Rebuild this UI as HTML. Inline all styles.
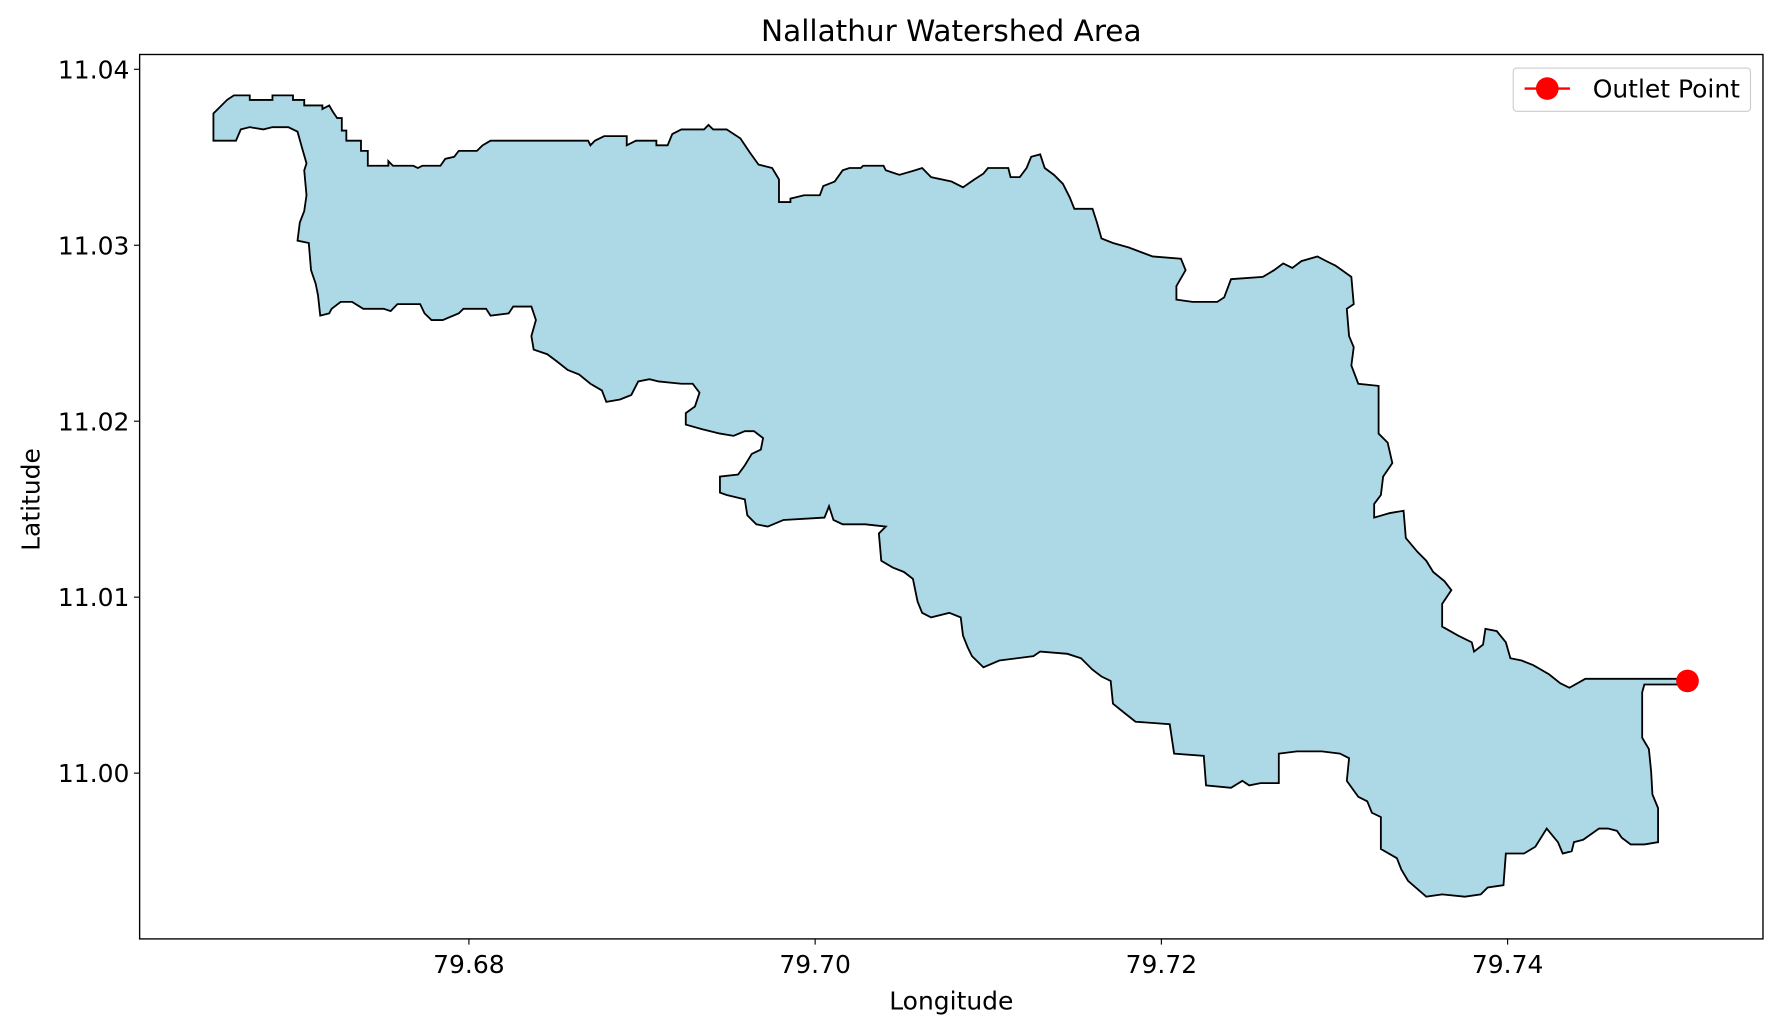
<!DOCTYPE html>
<html><head><meta charset="utf-8"><style>
html,body{margin:0;padding:0;background:#fff;}
svg{display:block;font-family:"DejaVu Sans","Liberation Sans",sans-serif;}
</style></head><body>
<svg id="chart" width="1780" height="1032" viewBox="0 0 1568 909" preserveAspectRatio="none" xmlns="http://www.w3.org/2000/svg">
<rect width="1568" height="909" fill="#fff"/>
<text x="838" y="36" font-size="26" text-anchor="middle" fill="#000">Nallathur Watershed Area</text>
<g id="plot"></g>
<rect x="123" y="48" width="1430" height="779" fill="none" stroke="#000" stroke-width="1.2"/>
<g id="xticks"></g><g id="yticks"></g>
<text x="838" y="889" font-size="22" text-anchor="middle">Longitude</text>
<text transform="translate(35,440) rotate(-90)" font-size="22" text-anchor="middle">Latitude</text>
<g>
<rect x="1333" y="60" width="209" height="38" rx="3" fill="#fff" stroke="#ccc"/>
<line x1="1343" y1="78" x2="1383" y2="78" stroke="red" stroke-width="2"/>
<circle cx="1363" cy="78" r="10" fill="red"/>
<text x="1403" y="86" font-size="22">Outlet Point</text>
</g>
</svg>
<script>
const lonData=[79.66524,79.66524,79.66557,79.66603,79.66642,79.66734,79.66734,79.66865,79.66865,79.66984,79.66984,79.67049,79.67049,79.67154,79.67154,79.67193,79.67213,79.67239,79.67266,79.67266,79.67292,79.67292,79.67377,79.67377,79.67416,79.67416,79.67535,79.67535,79.67561,79.67679,79.67705,79.67731,79.67836,79.67863,79.67915,79.67941,79.68046,79.68079,79.68125,79.68689,79.68702,79.68728,79.68781,79.68912,79.68912,79.68965,79.69083,79.69083,79.69148,79.69175,79.69227,79.69358,79.69384,79.69411,79.69489,79.69568,79.69621,79.69673,79.69752,79.69791,79.69791,79.69857,79.69857,79.69936,79.70027,79.70047,79.70113,79.70159,79.70198,79.70264,79.70277,79.70395,79.70408,79.70487,79.70578,79.70618,79.7067,79.70788,79.70854,79.7092,79.70972,79.70998,79.71116,79.71129,79.71182,79.71221,79.71248,79.713,79.71326,79.71379,79.71431,79.71471,79.71497,79.71602,79.71628,79.71654,79.7172,79.71812,79.71949,79.72113,79.7214,79.72087,79.72087,79.72179,79.72323,79.72363,79.72402,79.72586,79.72651,79.72704,79.72756,79.72809,79.72901,79.72953,79.73006,79.73097,79.73111,79.73071,79.73084,79.73111,79.73097,79.73137,79.73255,79.73255,79.73307,79.73334,79.73281,79.73268,79.73229,79.73229,79.7332,79.73399,79.73412,79.73478,79.7353,79.7357,79.73635,79.73675,79.73622,79.73622,79.73714,79.73793,79.73806,79.73858,79.73872,79.73937,79.7399,79.74016,79.74081,79.74147,79.74239,79.74304,79.74357,79.74449,79.75039,79.75013,79.7479,79.74777,79.74777,79.74816,79.74829,79.74836,79.74869,79.74869,79.7479,79.74711,79.74659,79.74632,79.7458,79.74528,79.74436,79.74383,79.7437,79.74318,79.74291,79.74226,79.7416,79.74095,79.7399,79.73976,79.73885,79.73845,79.73753,79.73622,79.7353,79.73425,79.73386,79.7336,79.73268,79.73268,79.73216,79.73189,79.73137,79.73071,79.73084,79.73032,79.72927,79.72783,79.72678,79.72678,79.72573,79.72507,79.72468,79.72402,79.72258,79.72245,79.72074,79.72048,79.71851,79.71785,79.7172,79.71707,79.71654,79.71602,79.71536,79.71457,79.713,79.71261,79.71064,79.70972,79.70906,79.7088,79.70854,79.70841,79.70775,79.7067,79.70618,79.70592,79.70565,79.70513,79.70447,79.70382,79.70368,79.70408,79.7029,79.70159,79.70106,79.7008,79.70054,79.69817,79.69726,79.6966,79.69608,79.69594,79.69489,79.6945,79.6945,79.69555,79.69594,79.69634,79.69686,79.69699,79.69647,79.69594,79.69529,79.6945,79.69345,79.69253,79.69253,79.69306,79.69332,79.69293,79.69227,79.69096,79.69043,79.68978,79.68938,79.68873,79.68794,79.68768,79.68702,79.68637,79.68571,79.68505,79.68453,79.68374,79.68361,79.68387,79.68361,79.68256,79.6823,79.68125,79.68099,79.67968,79.67941,79.67849,79.67784,79.67744,79.67718,79.67587,79.67548,79.67508,79.6739,79.67325,79.67259,79.67207,79.67193,79.67141,79.67128,79.67115,79.67088,79.67075,79.6701,79.67023,79.67049,79.67062,79.67049,79.67062,79.67036,79.6701,79.66957,79.66865,79.66813,79.66734,79.66682,79.66655];
const latData=[11.03594,11.03749,11.03781,11.03826,11.03852,11.03852,11.03826,11.03826,11.03852,11.03852,11.03826,11.03826,11.03794,11.03794,11.03774,11.03794,11.03761,11.03723,11.03723,11.03652,11.03652,11.03594,11.03594,11.03536,11.03536,11.03452,11.03452,11.03478,11.03452,11.03452,11.03439,11.03452,11.03452,11.03491,11.03503,11.03536,11.03536,11.03568,11.03594,11.03594,11.03568,11.03594,11.0362,11.0362,11.03568,11.03594,11.03594,11.03568,11.03568,11.03632,11.03658,11.03658,11.03684,11.03658,11.03658,11.03607,11.03529,11.03458,11.03439,11.03374,11.03245,11.03245,11.03265,11.03284,11.03284,11.03336,11.03362,11.03426,11.03439,11.03439,11.03452,11.03452,11.03426,11.034,11.03426,11.03439,11.03387,11.03362,11.03329,11.03374,11.03407,11.03439,11.03439,11.03387,11.03387,11.03439,11.03503,11.03516,11.03439,11.034,11.03349,11.03271,11.03207,11.03207,11.03129,11.03039,11.03013,11.02987,11.02936,11.02923,11.02858,11.02768,11.02691,11.02678,11.02678,11.02704,11.02807,11.0282,11.02858,11.02897,11.02871,11.0291,11.02936,11.0291,11.02884,11.0282,11.02665,11.02639,11.02484,11.0242,11.02317,11.02213,11.02201,11.0193,11.01878,11.01762,11.01685,11.01581,11.0153,11.01452,11.01478,11.01491,11.01336,11.01259,11.01207,11.01143,11.01091,11.0104,11.00962,11.00833,11.00782,11.00743,11.00691,11.0073,11.0082,11.00807,11.00743,11.00653,11.0064,11.00614,11.00562,11.00511,11.00485,11.00536,11.00536,11.00504,11.00504,11.00459,11.00201,11.00137,11.00008,10.99879,10.99801,10.99608,10.99595,10.99595,10.99633,10.99672,10.99685,10.99685,10.99621,10.99608,10.99556,10.99543,10.99608,10.99685,10.99582,10.99543,10.99543,10.99363,10.9935,10.99311,10.99298,10.99311,10.99298,10.99388,10.99453,10.99517,10.99569,10.9975,10.99775,10.9984,10.99866,10.99956,11.00085,11.00111,11.00124,11.00124,11.00111,10.99943,10.99943,10.9993,10.99956,10.99917,10.9993,11.00098,11.00111,11.00278,11.00292,11.00343,11.00395,11.00524,11.00549,11.00588,11.00653,11.00678,11.00691,11.00665,11.0064,11.00601,11.00665,11.00717,11.00782,11.00885,11.00911,11.00885,11.00911,11.00975,11.01104,11.01143,11.01169,11.01207,11.01362,11.01401,11.01414,11.01414,11.01439,11.01517,11.01452,11.01439,11.01401,11.01414,11.01465,11.01556,11.01581,11.01594,11.01685,11.01697,11.01749,11.01814,11.01839,11.01904,11.01943,11.01943,11.01917,11.0193,11.01955,11.01981,11.02046,11.02084,11.02162,11.02213,11.02213,11.02226,11.02239,11.02226,11.02149,11.02123,11.0211,11.02175,11.02213,11.02265,11.02291,11.02342,11.02381,11.02407,11.02484,11.02575,11.02652,11.02652,11.02613,11.026,11.02639,11.02639,11.02613,11.02575,11.02575,11.02613,11.02665,11.02665,11.02626,11.02639,11.02639,11.02678,11.02678,11.02639,11.02613,11.026,11.02717,11.02781,11.02858,11.03013,11.03026,11.03129,11.03194,11.03284,11.03426,11.03465,11.03555,11.03645,11.03671,11.03671,11.03658,11.03671,11.03658,11.03594];
const outletLon=[79.75039];
const outletLat=[11.00524];
const xTickVals=[79.68,79.70,79.72,79.74];
const xTickLabels=["79.68","79.70","79.72","79.74"];
const yTickVals=[11.00,11.01,11.02,11.03,11.04];
const yTickLabels=["11.00","11.01","11.02","11.03","11.04"];

const X0=123,X1=1553,Y0=48,Y1=827;
const LON0=79.66098,LON1=79.75475,LAT0=10.99058,LAT1=11.04084;
function sx(v){return X0+(v-LON0)/(LON1-LON0)*(X1-X0);}
function sy(v){return Y1-(v-LAT0)/(LAT1-LAT0)*(Y1-Y0);}
const NS="http://www.w3.org/2000/svg";
const plot=document.getElementById('plot');
const poly=document.createElementNS(NS,'polygon');
poly.setAttribute('points',lonData.map((v,i)=>sx(v).toFixed(1)+','+sy(latData[i]).toFixed(1)).join(' '));
poly.setAttribute('fill','#add8e6');poly.setAttribute('stroke','#000');poly.setAttribute('stroke-width','1.6');poly.setAttribute('stroke-linejoin','miter');


plot.appendChild(poly);
outletLon.forEach((v,i)=>{
 const c=document.createElementNS(NS,'circle');
 c.setAttribute('cx',sx(v));c.setAttribute('cy',sy(outletLat[i]));c.setAttribute('r','10');c.setAttribute('fill','red');
 
 
 plot.appendChild(c);
});
const xt=document.getElementById('xticks');
xTickVals.forEach((v,i)=>{
 const x=sx(v);
 const l=document.createElementNS(NS,'line');
 l.setAttribute('x1',x);l.setAttribute('x2',x);l.setAttribute('y1',Y1);l.setAttribute('y2',Y1+5);l.setAttribute('stroke','#000');
 
 
 xt.appendChild(l);
 const t=document.createElementNS(NS,'text');
 t.setAttribute('x',x);t.setAttribute('y',Y1+30);t.setAttribute('font-size','22');t.setAttribute('text-anchor','middle');
 t.textContent=xTickLabels[i];
 
 
 xt.appendChild(t);
});
const yt=document.getElementById('yticks');
yTickVals.forEach((v,i)=>{
 const y=sy(v);
 const l=document.createElementNS(NS,'line');
 l.setAttribute('x1',X0-5);l.setAttribute('x2',X0);l.setAttribute('y1',y);l.setAttribute('y2',y);l.setAttribute('stroke','#000');
 
 
 yt.appendChild(l);
 const t=document.createElementNS(NS,'text');
 t.setAttribute('x',X0-9);t.setAttribute('y',y+8);t.setAttribute('font-size','22');t.setAttribute('text-anchor','end');
 t.textContent=yTickLabels[i];
 
 
 yt.appendChild(t);
});
</script>
</body></html>
